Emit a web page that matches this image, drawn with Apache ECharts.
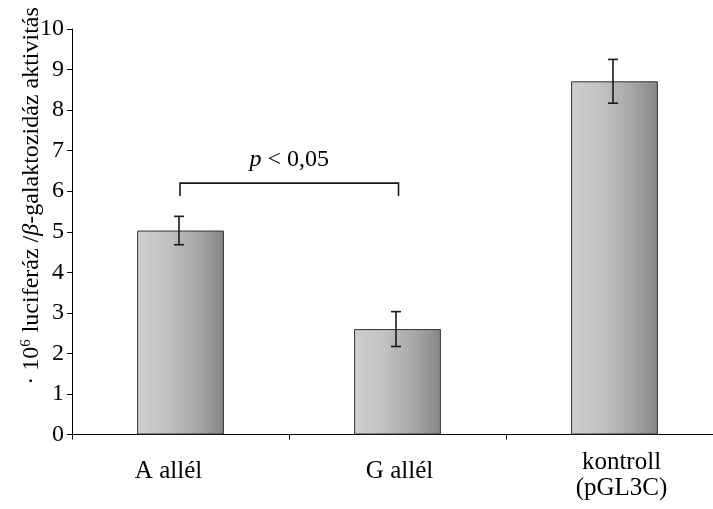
<!DOCTYPE html>
<html><head><meta charset="utf-8">
<script src="https://cdn.jsdelivr.net/npm/echarts@6/dist/echarts.min.js"></script>
<style>html,body{margin:0;padding:0;background:#fff;overflow:hidden}#c{width:713px;height:509px}</style>
</head><body><div id="c"></div>
<script>
// ---- data ----
const categories = ['A allél', 'G allél', 'kontroll\n(pGL3C)'];
const values = [5.03, 2.60, 8.71];
const errors = [0.35, 0.43, 0.54];
const yTickValues = [0, 1, 2, 3, 4, 5, 6, 7, 8, 9, 10];
const sigPair = [0, 1];
const sigLevel = 6.2;
const sigDrop = 0.32;
const sigText = ['p', ' < 0,05'];
// ---- chart ----
const FONT = "'Liberation Serif', 'Times New Roman', serif";
const labelShift = [-12, 2, 7]; // horizontal nudge of category labels (px)
const chart = echarts.init(document.getElementById('c'), null, {renderer: 'canvas'});
const errData = values.map((v, i) => [i, v - errors[i], v + errors[i]]);
const gradient = new echarts.graphic.LinearGradient(0, 0, 1, 0, [
  {offset: 0, color: '#cecece'},
  {offset: 0.35, color: '#c2c2c2'},
  {offset: 0.7, color: '#a6a6a6'},
  {offset: 1, color: '#868686'}
]);
function padFor(i) {
  const s = labelShift[i] || 0;
  return s < 0 ? [0, -2 * s, 0, 0] : [0, 0, 0, 2 * s];
}
chart.setOption({
  animation: false,
  backgroundColor: '#fff',
  grid: {left: 72, right: -10, top: 29, bottom: 74.5, containLabel: false, outerBoundsMode: 'none'},
  xAxis: {
    type: 'category',
    data: categories,
    axisLine: {lineStyle: {color: '#000', width: 1}},
    axisTick: {show: true, length: 5, lineStyle: {color: '#000'}},
    axisLabel: {
      margin: 15,
      color: '#000',
      fontFamily: FONT,
      fontSize: 25,
      formatter: function (v, i) {
        if (v.indexOf('\n') >= 0) {
          return v.split('\n').map(s => '{m' + i + '|' + s + '}').join('\n');
        }
        return '{s' + i + '|' + v + '}';
      },
      rich: (function () {
        const r = {};
        for (let i = 0; i < categories.length; i++) {
          r['m' + i] = {fontFamily: FONT, fontSize: 25, color: '#000', lineHeight: 26, padding: padFor(i)};
          r['s' + i] = {fontFamily: FONT, fontSize: 25, color: '#000', lineHeight: 44, padding: padFor(i)};
        }
        return r;
      })()
    }
  },
  yAxis: {
    type: 'value',
    min: yTickValues[0],
    max: yTickValues[yTickValues.length - 1],
    interval: yTickValues[1] - yTickValues[0],
    axisLine: {show: true, lineStyle: {color: '#000', width: 1}},
    axisTick: {show: true, length: 5, lineStyle: {color: '#000'}},
    splitLine: {show: false},
    axisLabel: {margin: 8, color: '#000', fontFamily: FONT, fontSize: 24}
  },
  graphic: [{
    type: 'text',
    x: 32, y: 196,
    rotation: Math.PI / 2,
    style: {
      text: '{n|· 10}{s|6}{n| luciferáz /}{i|β}{n|-galaktozidáz aktivitás}',
      align: 'center',
      verticalAlign: 'middle',
      rich: {
        n: {fontFamily: FONT, fontSize: 24, fill: '#000', lineHeight: 26},
        s: {fontFamily: FONT, fontSize: 15, fill: '#000', lineHeight: 26, verticalAlign: 'top', padding: [0, 1, 8, 0]},
        i: {fontFamily: FONT, fontSize: 24, fontStyle: 'italic', fill: '#000', lineHeight: 26}
      }
    }
  }],
  series: [
    {
      type: 'bar',
      data: values,
      barWidth: '40%',
      itemStyle: {color: gradient, borderColor: '#333', borderWidth: 1}
    },
    {
      type: 'custom',
      data: errData,
      z: 5,
      renderItem: function (params, api) {
        const lo = api.coord([api.value(0), api.value(1)]);
        const hi = api.coord([api.value(0), api.value(2)]);
        const x = lo[0] - 1.5, w = 5;
        const st = {stroke: '#1a1a1a', lineWidth: 1.6};
        return {
          type: 'group',
          children: [
            {type: 'line', shape: {x1: x, y1: lo[1], x2: x, y2: hi[1]}, style: st},
            {type: 'line', shape: {x1: x - w, y1: lo[1], x2: x + w, y2: lo[1]}, style: st},
            {type: 'line', shape: {x1: x - w, y1: hi[1], x2: x + w, y2: hi[1]}, style: st}
          ]
        };
      }
    },
    {
      type: 'custom',
      data: [[sigPair[0], sigPair[1], sigLevel, sigLevel - sigDrop]],
      z: 5,
      renderItem: function (params, api) {
        const a = api.coord([api.value(0), api.value(2)]);
        const b = api.coord([api.value(1), api.value(2)]);
        const a2 = api.coord([api.value(0), api.value(3)]);
        const st = {stroke: '#1a1a1a', lineWidth: 1.6};
        const xa = a[0] - 0.5, xb = b[0] + 1;
        return {
          type: 'group',
          children: [
            {type: 'polyline', shape: {points: [[xa, a2[1]], [xa, a[1]], [xb, a[1]], [xb, a2[1]]]}, style: Object.assign({fill: 'none'}, st)},
            {
              type: 'text',
              x: (xa + xb) / 2, y: a[1] - 23,
              style: {
                text: '{i|' + sigText[0] + '}{n|' + sigText[1] + '}',
                align: 'center', verticalAlign: 'middle',
                rich: {
                  i: {fontFamily: FONT, fontSize: 24, fontStyle: 'italic', fill: '#000'},
                  n: {fontFamily: FONT, fontSize: 24, fill: '#000'}
                }
              }
            }
          ]
        };
      }
    }
  ]
});
</script>
</body></html>
